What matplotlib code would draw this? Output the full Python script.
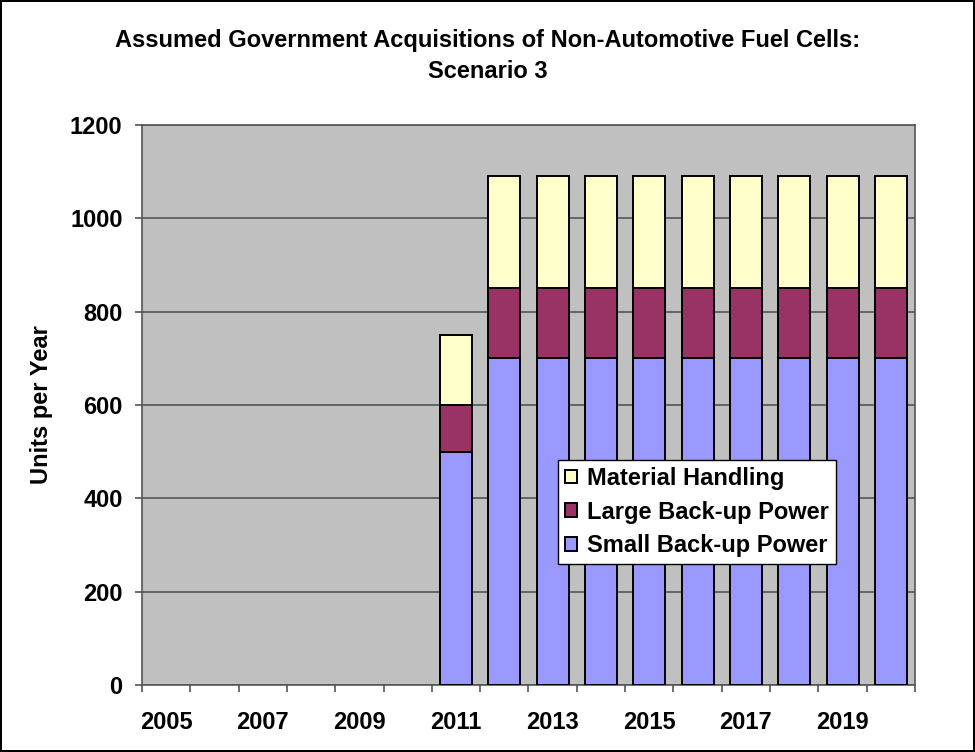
import matplotlib
matplotlib.use('Agg')
import matplotlib.pyplot as plt
import numpy as np

plt.rcParams['font.family'] = ['Liberation Sans', 'DejaVu Sans']
plt.rcParams['font.weight'] = 'bold'

years = list(range(2005, 2021))
small_backup = [0, 0, 0, 0, 0, 0, 500, 700, 700, 700, 700, 700, 700, 700, 700, 700]
large_backup = [0, 0, 0, 0, 0, 0, 100, 150, 150, 150, 150, 150, 150, 150, 150, 150]
material = [0, 0, 0, 0, 0, 0, 150, 240, 240, 240, 240, 240, 240, 240, 240, 240]

fs = 17

fig = plt.figure(figsize=(9.75, 7.52), dpi=100)
fig.patch.set_edgecolor('black')
fig.patch.set_linewidth(1.5)
ax = fig.add_axes([0.1456, 0.0891, 0.7929, 0.7447])
ax.set_facecolor('#C0C0C0')

x = np.arange(len(years))
w = 0.66
s = np.array(small_backup)
l = np.array(large_backup)
m = np.array(material)
mask = (s + l + m) > 0
b1 = ax.bar(x[mask], s[mask], w, color='#9999FF', edgecolor='black', linewidth=1.4, zorder=3, label='Small Back-up Power')
b2 = ax.bar(x[mask], l[mask], w, bottom=s[mask], color='#993366', edgecolor='black', linewidth=1.4, zorder=3, label='Large Back-up Power')
b3 = ax.bar(x[mask], m[mask], w, bottom=(s + l)[mask], color='#FFFFCC', edgecolor='black', linewidth=1.4, zorder=3, label='Material Handling')

ax.set_xlim(-0.5, len(years) - 0.5)
ax.set_ylim(0, 1200)
ax.set_yticks(range(0, 1201, 200))
ax.yaxis.grid(True, color='#555555', linewidth=1.2, zorder=1)
ax.set_xticks(x[::2])
ax.set_xticklabels([str(y) for y in years[::2]], fontsize=fs, fontweight='bold')
ax.set_xticks(np.arange(-0.5, len(years), 1), minor=True)
ax.tick_params(axis='x', which='major', length=0, pad=19)
ax.tick_params(axis='x', which='minor', length=5, color='#555555', width=1.2)
ax.tick_params(axis='y', length=5, color='#555555', width=1.2, labelsize=fs, pad=9)
for lab in ax.get_yticklabels():
    lab.set_fontweight('bold')
for sp in ax.spines.values():
    sp.set_color('#555555')
    sp.set_linewidth(1.2)

ax.set_ylabel('Units per Year', fontsize=fs, fontweight='bold', labelpad=12)
fig.text(0.5, 0.925, 'Assumed Government Acquisitions of Non-Automotive Fuel Cells:\nScenario 3',
         ha='center', va='center', fontsize=fs, fontweight='bold', linespacing=1.45)

leg = ax.legend(handles=[b3, b2, b1], loc='upper left', bbox_to_anchor=(0.538, 0.402),
                fontsize=fs, frameon=True, fancybox=False, edgecolor='black', framealpha=1,
                handlelength=0.5, handleheight=0.5, handletextpad=0.45,
                labelspacing=0.45, borderpad=0.3, borderaxespad=0)
leg.get_frame().set_linewidth(1.0)
for t in leg.get_texts():
    t.set_fontweight('bold')

fig.savefig('out.png', dpi=100, edgecolor=fig.get_edgecolor())
